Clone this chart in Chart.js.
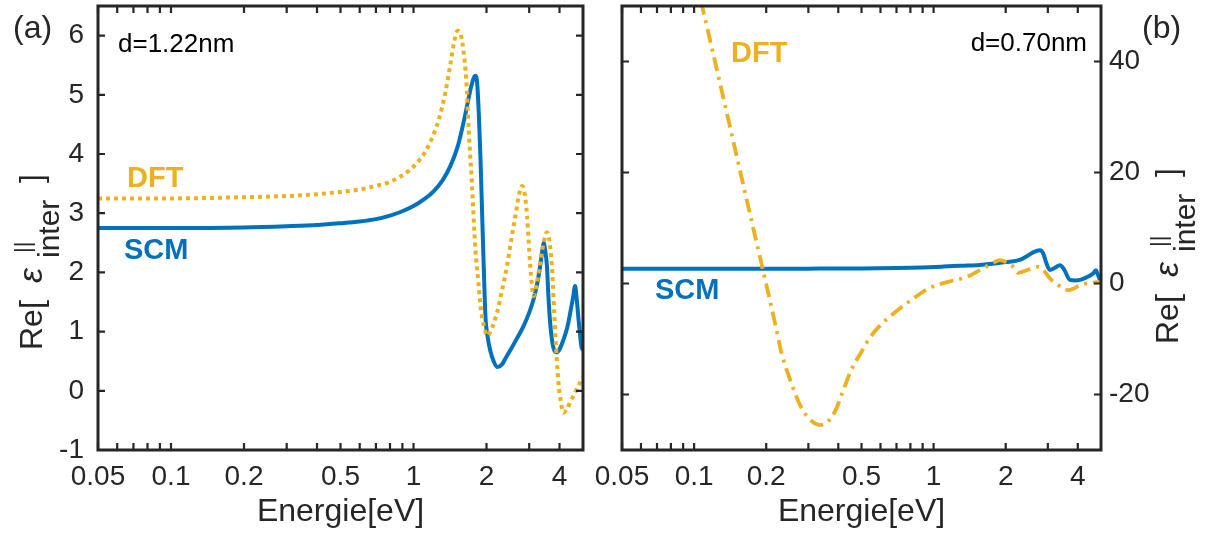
<!DOCTYPE html>
<html>
<head>
<meta charset="utf-8">
<script src="https://cdn.jsdelivr.net/npm/chart.js@4.4.0/dist/chart.umd.min.js"></script>
<style>
  body { margin: 0; background: #fff; }
  #wrap { position: relative; width: 1205px; height: 540px; }
  canvas { position: absolute; top: 0; }
  #chartA { left: 0; }
  #chartB { left: 560px; }
</style>
</head>
<body>
<div id="wrap">
  <canvas id="chartA" width="600" height="540"></canvas>
  <canvas id="chartB" width="645" height="540"></canvas>
</div>
<script>
// tick values
const energyTicks = [0.05, 0.1, 0.2, 0.5, 1, 2, 4];
const energyMinorTicks = [0.06, 0.07, 0.08, 0.09, 0.3, 0.4, 0.6, 0.7, 0.8, 0.9, 3];
const yTicksA = [-1, 0, 1, 2, 3, 4, 5, 6];
const yTicksB = [-20, 0, 20, 40];

// panel (a), d=1.22nm
const scmEnergyA = [0.05, 0.1, 0.2, 0.3, 0.4, 0.5, 0.6, 0.7, 0.8, 0.884, 1.0, 1.1, 1.21, 1.32, 1.42, 1.52, 1.61, 1.67, 1.72, 1.77, 1.80, 1.83, 1.86, 1.89, 1.92, 1.95, 1.98, 2.02, 2.07, 2.14, 2.22, 2.32, 2.42, 2.51, 2.65, 2.84, 3.0, 3.13, 3.25, 3.33, 3.40, 3.44, 3.49, 3.55, 3.60, 3.66, 3.72, 3.78, 3.88, 4.0, 4.15, 4.30, 4.43, 4.55, 4.64, 4.71, 4.78, 4.86, 4.94, 5.0];
const scmValuesA = [2.75, 2.75, 2.76, 2.78, 2.80, 2.83, 2.86, 2.90, 2.96, 3.02, 3.12, 3.23, 3.37, 3.56, 3.80, 4.12, 4.54, 4.85, 5.10, 5.28, 5.32, 5.20, 4.66, 3.90, 2.95, 2.05, 1.26, 0.92, 0.69, 0.50, 0.40, 0.45, 0.58, 0.69, 0.86, 1.09, 1.32, 1.55, 1.85, 2.11, 2.38, 2.50, 2.38, 2.11, 1.60, 1.15, 0.88, 0.72, 0.65, 0.70, 0.86, 1.06, 1.32, 1.58, 1.77, 1.55, 1.26, 0.95, 0.72, 0.70];
const dftEnergyA = [0.05, 0.1, 0.2, 0.3, 0.4, 0.5, 0.6, 0.7, 0.8, 0.884, 0.96, 1.04, 1.12, 1.21, 1.28, 1.35, 1.42, 1.47, 1.52, 1.57, 1.61, 1.65, 1.69, 1.74, 1.80, 1.85, 1.89, 1.95, 2.02, 2.1, 2.21, 2.32, 2.43, 2.53, 2.63, 2.72, 2.80, 2.87, 2.94, 3.03, 3.08, 3.13, 3.22, 3.33, 3.45, 3.55, 3.63, 3.72, 3.84, 3.96, 4.05, 4.15, 4.3, 4.45, 4.56, 4.75, 5.0];
const dftValuesA = [3.25, 3.25, 3.27, 3.29, 3.32, 3.36, 3.40, 3.46, 3.53, 3.62, 3.72, 3.86, 4.04, 4.33, 4.62, 5.02, 5.52, 5.88, 6.08, 6.00, 5.72, 5.25, 4.40, 3.52, 2.39, 1.85, 1.43, 1.10, 0.93, 1.05, 1.32, 1.70, 2.11, 2.55, 2.95, 3.30, 3.46, 3.35, 2.95, 2.11, 1.78, 1.60, 1.80, 2.17, 2.52, 2.68, 2.55, 2.11, 0.98, 0.14, -0.18, -0.37, -0.30, -0.17, -0.09, 0.06, 0.23];

// panel (b), d=0.70nm
const scmEnergyB = [0.05, 0.1, 0.2, 0.3, 0.5, 0.7, 0.9, 1.1, 1.3, 1.56, 1.8, 2.0, 2.29, 2.45, 2.6, 2.78, 2.87, 2.96, 3.06, 3.2, 3.37, 3.5, 3.71, 3.9, 4.09, 4.35, 4.65, 4.76, 4.86, 4.95, 5.0];
const scmValuesB = [2.66, 2.66, 2.67, 2.68, 2.72, 2.8, 2.9, 3.05, 3.2, 3.35, 3.6, 3.85, 4.25, 4.9, 5.6, 6.0, 5.4, 3.6, 2.45, 2.8, 3.3, 2.6, 0.65, 0.55, 0.65, 1.1, 1.85, 2.4, 1.5, 0.7, 0.6];
const dftEnergyB = [0.1, 0.108, 0.13, 0.166, 0.2, 0.221, 0.232, 0.255, 0.279, 0.31, 0.336, 0.36, 0.39, 0.42, 0.453, 0.5, 0.545, 0.6, 0.681, 0.8, 0.952, 1.15, 1.38, 1.56, 1.75, 1.89, 2.02, 2.15, 2.26, 2.45, 2.74, 2.9, 3.06, 3.25, 3.48, 3.65, 3.85, 4.09, 4.5, 5.0];
const dftValuesB = [56, 50, 35, 15, -0.1, -8.4, -12.6, -18, -22.2, -24.8, -25.5, -25.0, -22.8, -19.2, -15.6, -12.3, -9.6, -7.5, -5.4, -3.1, -0.9, 0.3, 1.2, 2.4, 3.6, 4.2, 3.8, 3.0, 1.9, 2.4, 3.0, 2.2, 0.9, 0.0, -0.9, -1.2, -0.9, -0.3, 0.1, 0.3];

const blue = '#0072BD';
const orange = '#EDB120';
const ink = '#262626';
const family = '"Liberation Sans", Arial, Helvetica, sans-serif';

Chart.defaults.font.family = family;
Chart.defaults.color = ink;

function toPoints(xs, ys) {
    return xs.map((x, i) => ({ x: x, y: ys[i] }));
}

// no extra room for overhanging tick labels, the box is placed by hand
function noPadding(s) {
    s.paddingTop = 0;
    s.paddingBottom = 0;
    s.paddingLeft = 0;
    s.paddingRight = 0;
}

// box around the plot with inward ticks, like the matlab axes
const framePlugin = {
    id: 'frame',
    afterDatasetsDraw(chart, args, opts) {
        const { ctx, chartArea: a, scales } = chart;
        const xs = scales.x;
        const ys = scales.y;
        const len = 7;
        ctx.save();
        ctx.strokeStyle = ink;
        ctx.lineWidth = 2.2;
        ctx.beginPath();
        const xVals = xs.ticks.map(t => t.value).concat(opts.minor);
        xVals.forEach(v => {
            const px = xs.getPixelForValue(v);
            ctx.moveTo(px, a.bottom);
            ctx.lineTo(px, a.bottom - len);
            ctx.moveTo(px, a.top);
            ctx.lineTo(px, a.top + len);
        });
        ys.ticks.forEach(t => {
            const py = ys.getPixelForValue(t.value);
            ctx.moveTo(a.left, py);
            ctx.lineTo(a.left + len, py);
            ctx.moveTo(a.right, py);
            ctx.lineTo(a.right - len, py);
        });
        ctx.stroke();
        ctx.lineWidth = 3;
        ctx.strokeRect(a.left, a.top, a.right - a.left, a.bottom - a.top);
        ctx.restore();
    }
};

// text labels and the Re[eps] axis title
const notesPlugin = {
    id: 'notes',
    afterDraw(chart, args, opts) {
        const ctx = chart.ctx;
        ctx.save();
        ctx.textBaseline = 'middle';
        opts.items.forEach(n => {
            ctx.font = (n.bold ? 'bold ' : '') + n.size + 'px ' + family;
            ctx.fillStyle = n.color;
            ctx.textAlign = n.align || 'left';
            ctx.fillText(n.text, n.x, n.y);
        });
        ctx.restore();

        // rotated title, reads bottom to top
        const t = opts.yTitle;
        ctx.save();
        ctx.translate(t.x, t.y);
        ctx.rotate(-Math.PI / 2);
        ctx.fillStyle = ink;
        ctx.textAlign = 'left';
        ctx.textBaseline = 'alphabetic';
        const parts = [
            ['Re[', '32px ', -89, 0],
            ['ε', 'italic 34px ', -22, 0],
            ['||', '22px ', 8, -12],
            ['inter', '30px ', 3, 17],
            [']', '32px ', 78, 0]
        ];
        parts.forEach(p => {
            ctx.font = p[1] + family;
            ctx.fillText(p[0], p[2], p[3]);
        });
        ctx.restore();
    }
};

function makeOptions(cfg) {
    return {
        responsive: false,
        animation: false,
        devicePixelRatio: 1,
        layout: { autoPadding: false, padding: cfg.padding },
        plugins: {
            legend: { display: false },
            tooltip: { enabled: false },
            frame: { minor: energyMinorTicks },
            notes: { items: cfg.notes, yTitle: cfg.yTitle }
        },
        scales: {
            x: {
                type: 'logarithmic',
                min: 0.05,
                max: 5,
                afterBuildTicks: s => { s.ticks = energyTicks.map(v => ({ value: v })); },
                afterFit: s => { s.height = 90; noPadding(s); },
                grid: { display: false, drawTicks: false },
                border: { display: false },
                ticks: {
                    autoSkip: false,
                    maxRotation: 0,
                    padding: 10,
                    color: ink,
                    font: { size: 28 },
                    callback: v => String(v)
                },
                title: {
                    display: true,
                    text: 'Energie[eV]',
                    color: ink,
                    font: { size: 32 },
                    padding: { top: 0, bottom: 9 }
                }
            },
            y: {
                position: cfg.yPos,
                min: cfg.yMin,
                max: cfg.yMax,
                afterBuildTicks: s => { s.ticks = cfg.yTicks.map(v => ({ value: v })); },
                afterFit: s => { s.width = cfg.yWidth; noPadding(s); },
                grid: { display: false, drawTicks: false },
                border: { display: false },
                ticks: {
                    padding: cfg.yPad,
                    color: ink,
                    font: { size: 28 },
                    callback: v => String(v)
                }
            }
        }
    };
}

new Chart(document.getElementById('chartA'), {
    type: 'line',
    data: {
        datasets: [
            {
                label: 'DFT',
                data: toPoints(dftEnergyA, dftValuesA),
                borderColor: orange,
                borderWidth: 4,
                borderDash: [4, 4],
                pointRadius: 0,
                cubicInterpolationMode: 'monotone'
            },
            {
                label: 'SCM',
                data: toPoints(scmEnergyA, scmValuesA),
                borderColor: blue,
                borderWidth: 4,
                pointRadius: 0,
                cubicInterpolationMode: 'monotone'
            }
        ]
    },
    options: makeOptions({
        padding: { top: 6, right: 17, left: 0, bottom: 0 },
        yPos: 'left', yMin: -1, yMax: 6.5, yTicks: yTicksA, yWidth: 98, yPad: 14,
        yTitle: { x: 42, y: 261 },
        notes: [
            { text: '(a)', x: 13, y: 29, size: 32, color: ink },
            { text: 'd=1.22nm', x: 118, y: 45, size: 26, color: '#000' },
            { text: 'DFT', x: 127, y: 179, size: 29, bold: true, color: orange },
            { text: 'SCM', x: 124, y: 251, size: 29, bold: true, color: blue }
        ]
    }),
    plugins: [framePlugin, notesPlugin]
});

new Chart(document.getElementById('chartB'), {
    type: 'line',
    data: {
        datasets: [
            {
                label: 'DFT',
                data: toPoints(dftEnergyB, dftValuesB),
                borderColor: orange,
                borderWidth: 3.8,
                borderDash: [14, 6, 3, 6],
                pointRadius: 0,
                cubicInterpolationMode: 'monotone'
            },
            {
                label: 'SCM',
                data: toPoints(scmEnergyB, scmValuesB),
                borderColor: blue,
                borderWidth: 4,
                pointRadius: 0,
                cubicInterpolationMode: 'monotone'
            }
        ]
    },
    options: makeOptions({
        padding: { top: 6, right: 0, left: 62, bottom: 0 },
        yPos: 'right', yMin: -30, yMax: 50, yTicks: yTicksB, yWidth: 104, yPad: 8,
        yTitle: { x: 618, y: 255 },
        notes: [
            { text: '(b)', x: 582, y: 29, size: 32, color: ink },
            { text: 'd=0.70nm', x: 527, y: 44, size: 26, color: '#000', align: 'right' },
            { text: 'DFT', x: 171, y: 54, size: 29, bold: true, color: orange },
            { text: 'SCM', x: 95, y: 291, size: 29, bold: true, color: blue }
        ]
    }),
    plugins: [framePlugin, notesPlugin]
});
</script>
</body>
</html>
